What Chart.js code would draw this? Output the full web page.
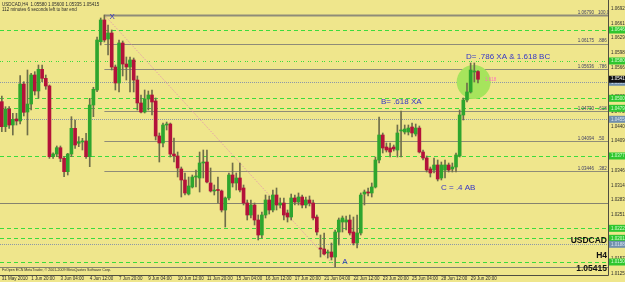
<!DOCTYPE html>
<html>
<head>
<meta charset="utf-8">
<title>USDCAD H4</title>
<script src="https://cdn.jsdelivr.net/npm/chart.js@4.4.0/dist/chart.umd.min.js"></script>
<style>
  html, body { margin: 0; padding: 0; background: #efe68c; }
  #wrap { width: 625px; height: 282px; }
</style>
</head>
<body>
<div id="wrap"><canvas id="chart" width="625" height="282"></canvas></div>
<script>
// USDCAD H4 — candles drawn as floating bars (wick + body)

// ── Data ──────────────────────────────────────────────────────────────
const opens = [
  1.04935, 1.04400, 1.04778, 1.04436, 1.04565, 1.04522, 1.05313, 1.04714, 1.04885, 1.05506,
  1.05164, 1.05628, 1.05435, 1.05271, 1.03758, 1.03815, 1.03950, 1.03723, 1.03437, 1.03815,
  1.04365, 1.04045, 1.04073, 1.04094, 1.03758, 1.04864, 1.05185, 1.06219, 1.06683, 1.06276,
  1.06405, 1.05677, 1.05335, 1.06191, 1.05741, 1.05677, 1.05827, 1.05399, 1.04907, 1.04714,
  1.04992, 1.05078, 1.04950, 1.04201, 1.04051, 1.04436, 1.04457, 1.03815, 1.03773, 1.03495,
  1.03259, 1.02959, 1.03109, 1.03323, 1.03302, 1.03623, 1.03644, 1.03195, 1.03024, 1.03045,
  1.03024, 1.02617, 1.02874, 1.03366, 1.03195, 1.03302, 1.03088, 1.02767, 1.02510, 1.02724,
  1.02403, 1.02082, 1.02510, 1.02831, 1.02617, 1.02938, 1.02724, 1.02767, 1.02553, 1.02467,
  1.02874, 1.02788, 1.02895, 1.02724, 1.02831, 1.02767, 1.02467, 1.01804, 1.01782, 1.01697,
  1.01718, 1.01611, 1.02146, 1.02360, 1.02360, 1.02403, 1.02146, 1.01911, 1.02125, 1.02959,
  1.03002, 1.02981, 1.03109, 1.03687, 1.04222, 1.03965, 1.03944, 1.03965, 1.03901, 1.04308,
  1.04286, 1.04286, 1.04393, 1.04243, 1.04371, 1.03858, 1.03730, 1.03495, 1.03473, 1.03580,
  1.03302, 1.03473, 1.03580, 1.03495, 1.03537, 1.03773, 1.04650, 1.04971, 1.05143, 1.05570,
  1.05580
];
const highs = [
  1.05057, 1.04828, 1.04828, 1.04686, 1.04686, 1.05491, 1.05363, 1.05613, 1.05542, 1.05577,
  1.05720, 1.05720, 1.05506, 1.05292, 1.03843, 1.03987, 1.03987, 1.03758, 1.03830, 1.04614,
  1.04543, 1.04186, 1.04151, 1.04258, 1.05007, 1.05243, 1.06319, 1.06726, 1.06790, 1.06576,
  1.06469, 1.05720, 1.06255, 1.06234, 1.05891, 1.05891, 1.05870, 1.05485, 1.05078, 1.05185,
  1.05164, 1.05185, 1.05014, 1.04265, 1.04479, 1.04500, 1.04479, 1.04158, 1.03858, 1.03537,
  1.03409, 1.03323, 1.03366, 1.03473, 1.03858, 1.03901, 1.03901, 1.03516, 1.03152, 1.03323,
  1.03045, 1.02895, 1.03409, 1.03623, 1.03409, 1.03623, 1.03152, 1.02831, 1.02831, 1.02767,
  1.02510, 1.02574, 1.02938, 1.02917, 1.03045, 1.03088, 1.02874, 1.02874, 1.02617, 1.02959,
  1.02938, 1.02981, 1.02938, 1.02895, 1.02917, 1.02831, 1.02510, 1.02082, 1.02125, 1.01761,
  1.01911, 1.02189, 1.02446, 1.02489, 1.02489, 1.02510, 1.02467, 1.02510, 1.02981, 1.03045,
  1.03088, 1.03195, 1.03751, 1.04607, 1.04265, 1.04051, 1.04051, 1.04008, 1.04436, 1.04736,
  1.04436, 1.04436, 1.04479, 1.04457, 1.04415, 1.03901, 1.03773, 1.03537, 1.03730, 1.03687,
  1.03644, 1.03687, 1.03623, 1.03623, 1.03837, 1.04757, 1.05014, 1.05335, 1.05763, 1.05763,
  1.05600
];
const lows = [
  1.04293, 1.04293, 1.04365, 1.04222, 1.04436, 1.04457, 1.04629, 1.04222, 1.04757, 1.05078,
  1.05007, 1.05363, 1.05200, 1.03723, 1.03723, 1.03758, 1.03651, 1.03330, 1.03366, 1.03758,
  1.03937, 1.03972, 1.03901, 1.03723, 1.03544, 1.04614, 1.05149, 1.06148, 1.06212, 1.05934,
  1.05613, 1.05185, 1.05143, 1.05485, 1.05399, 1.05143, 1.05143, 1.04757, 1.04693, 1.04693,
  1.04757, 1.04650, 1.04115, 1.03644, 1.03965, 1.04329, 1.03751, 1.03644, 1.03323, 1.02895,
  1.02938, 1.02938, 1.03088, 1.03109, 1.03002, 1.03302, 1.03195, 1.03002, 1.02938, 1.02767,
  1.02574, 1.02253, 1.02831, 1.03109, 1.03045, 1.03002, 1.02724, 1.02403, 1.02446, 1.02296,
  1.01975, 1.02018, 1.02446, 1.02531, 1.02574, 1.02617, 1.02660, 1.02403, 1.02360, 1.02403,
  1.02724, 1.02724, 1.02660, 1.02660, 1.02703, 1.02403, 1.02082, 1.01611, 1.01654, 1.01590,
  1.01547, 1.01397, 1.01868, 1.02146, 1.02189, 1.02082, 1.01868, 1.01804, 1.02082, 1.02724,
  1.02917, 1.02895, 1.03088, 1.03623, 1.03837, 1.03858, 1.03751, 1.03880, 1.03751, 1.03751,
  1.04243, 1.04222, 1.04179, 1.04201, 1.03837, 1.03687, 1.03430, 1.03323, 1.03409, 1.03238,
  1.03259, 1.03302, 1.03430, 1.03430, 1.03430, 1.03751, 1.04543, 1.04928, 1.05121, 1.05356,
  1.05335
];
const closes = [
  1.04400, 1.04778, 1.04436, 1.04558, 1.04522, 1.05313, 1.04708, 1.04885, 1.05506, 1.05164,
  1.05628, 1.05435, 1.05271, 1.03758, 1.03815, 1.03950, 1.03723, 1.03437, 1.03815, 1.04365,
  1.04008, 1.04079, 1.04087, 1.03758, 1.04864, 1.05200, 1.06255, 1.06683, 1.06255, 1.06405,
  1.05677, 1.05335, 1.06191, 1.05741, 1.05677, 1.05827, 1.05399, 1.04907, 1.04714, 1.04992,
  1.05078, 1.04928, 1.04201, 1.04051, 1.04436, 1.04457, 1.03815, 1.03773, 1.03516, 1.03259,
  1.02981, 1.03131, 1.03323, 1.03334, 1.03623, 1.03634, 1.03216, 1.03024, 1.03045, 1.03034,
  1.02617, 1.02874, 1.03366, 1.03195, 1.03302, 1.03045, 1.02767, 1.02510, 1.02724, 1.02403,
  1.02082, 1.02510, 1.02831, 1.02617, 1.02938, 1.02724, 1.02767, 1.02510, 1.02467, 1.02874,
  1.02788, 1.02895, 1.02724, 1.02831, 1.02767, 1.02446, 1.02146, 1.01782, 1.01675, 1.01718,
  1.01611, 1.02146, 1.02403, 1.02446, 1.02403, 1.02125, 1.01911, 1.02125, 1.02938, 1.03002,
  1.02981, 1.03109, 1.03687, 1.04222, 1.03944, 1.03901, 1.03858, 1.03922, 1.04265, 1.04329,
  1.04350, 1.04371, 1.04265, 1.04371, 1.03858, 1.03730, 1.03473, 1.03409, 1.03580, 1.03280,
  1.03580, 1.03580, 1.03473, 1.03537, 1.03794, 1.04650, 1.04971, 1.05143, 1.05613, 1.05581,
  1.05415
];

// one label every 8 H4 bars, first one on bar 0
const timeLabels = [
  '31 May 2010', '1 Jun 20:00', '3 Jun 04:00', '4 Jun 12:00', '7 Jun 20:00', '9 Jun 04:00',
  '10 Jun 12:00', '11 Jun 20:00', '15 Jun 04:00', '16 Jun 12:00', '17 Jun 20:00', '21 Jun 04:00',
  '22 Jun 12:00', '23 Jun 20:00', '25 Jun 04:00', '28 Jun 12:00', '29 Jun 20:00'
];
const priceTicks = [
  1.06925, 1.06610, 1.06295, 1.05980, 1.05665, 1.05350, 1.05035, 1.04720, 1.04405, 1.04090,
  1.03775, 1.03460, 1.03145, 1.02830, 1.02515, 1.02200, 1.01885, 1.01570, 1.01255
];

// Fibonacci levels of XA, drawn from the X bar to the right edge
const fibPrices = [1.06790, 1.06175, 1.05636, 1.04730, 1.04094, 1.03446];
const fibRatios = ['100.0', '.886', '.786', '.618', '.50', '.382'];
const solidLines = [1.02760, 1.01397];
const greenLines = [1.06469, 1.05806, 1.05007, 1.04793, 1.03773, 1.02225, 1.02011, 1.01504];
const dottedLines = [1.05350, 1.04558, 1.01883];

const X_BAR = 28, A_BAR = 91;
const TOTAL_SLOTS = 166; // 131 bars + chart shift space

const COLORS = {
  bg: '#efe68c',
  bull: '#2ea52e',
  bear: '#b3123a',
  wick: '#6f6e4a',
  fib: '#8f8c78',
  solid: '#85836f',
  green: '#3bdc3b',
  dotted: '#8c98a8',
  blueText: '#3434c8',
  pink: '#e48fb4',
  frame: '#4f4d40',
  text: '#2b2b2b',
};

const labels = [];
for (let i = 0; i < TOTAL_SLOTS; i++) {
  labels.push(i % 8 === 0 && timeLabels[i / 8] ? timeLabels[i / 8] : '');
}

// ── Plugins ───────────────────────────────────────────────────────────

const backdrop = {
  id: 'backdrop',
  beforeDraw(chart) {
    const ctx = chart.ctx;
    ctx.save();
    ctx.fillStyle = COLORS.bg;
    ctx.fillRect(0, 0, chart.width, chart.height);
    ctx.restore();
  },
  beforeDatasetsDraw(chart) {
    const { ctx, chartArea: a, scales: { x, y } } = chart;
    const hline = (p, x0, color, width, dash) => {
      const py = Math.round(y.getPixelForValue(p)) + 0.5;
      ctx.beginPath();
      ctx.strokeStyle = color;
      ctx.lineWidth = width;
      ctx.setLineDash(dash || []);
      ctx.moveTo(x0, py);
      ctx.lineTo(a.right, py);
      ctx.stroke();
    };
    ctx.save();
    greenLines.forEach((p, i) => hline(p, a.left, COLORS.green, 1, i === 1 ? [1, 1, 1, 4] : [4, 3]));
    dottedLines.forEach(p => hline(p, a.left, COLORS.dotted, 1, [1, 1]));
    solidLines.forEach(p => hline(p, a.left, COLORS.solid, 1));
    const fx = x.getPixelForValue(X_BAR);
    fibPrices.forEach((p, i) => hline(p, fx, COLORS.fib, i === 0 ? 2 : 1.2));

    // XA leg
    ctx.beginPath();
    ctx.strokeStyle = COLORS.pink;
    ctx.lineWidth = 1;
    ctx.setLineDash([1, 1.5]);
    ctx.moveTo(x.getPixelForValue(X_BAR), y.getPixelForValue(highs[X_BAR]));
    ctx.lineTo(x.getPixelForValue(A_BAR), y.getPixelForValue(lows[A_BAR]));
    ctx.stroke();
    ctx.setLineDash([]);

    // D zone
    ctx.beginPath();
    ctx.fillStyle = '#a6e45c';
    ctx.arc(x.getPixelForValue(128) + 3, y.getPixelForValue(1.05356), 17, 0, Math.PI * 2);
    ctx.fill();
    ctx.restore();
  },
  afterDatasetsDraw(chart) {
    const { ctx, chartArea: a, scales: { x, y } } = chart;
    const px = i => x.getPixelForValue(Math.floor(i)) + (i % 1) * (x.getPixelForValue(1) - x.getPixelForValue(0));
    ctx.save();
    ctx.textBaseline = 'middle';

    // fibo level captions
    ctx.font = '4.5px "Liberation Sans", Arial, sans-serif';
    ctx.fillStyle = '#3d3d66';
    fibPrices.forEach((p, i) => {
      const py = y.getPixelForValue(p) - 2.5;
      ctx.textAlign = 'right';
      ctx.fillText(p.toFixed(5), a.right - 14, py);
      ctx.textAlign = 'left';
      ctx.fillText(fibRatios[i], a.right - 10, py);
    });

    // pattern captions
    ctx.fillStyle = COLORS.blueText;
    ctx.font = '8px "Liberation Sans", Arial, sans-serif';
    ctx.textAlign = 'center';
    ctx.fillText('X', px(30.1), y.getPixelForValue(1.06747));
    ctx.fillText('A', px(93.7), y.getPixelForValue(1.01504));
    ctx.textAlign = 'left';
    ctx.fillText('B= .618 XA', px(103.5), y.getPixelForValue(1.04928));
    ctx.fillText('C = .4 AB', px(119.9), y.getPixelForValue(1.03088));
    ctx.fillText('D= .786 XA & 1.618 BC', px(126.7), y.getPixelForValue(1.05891));
    ctx.fillStyle = '#ff6fbf';
    ctx.font = '4.5px "Liberation Sans", Arial, sans-serif';
    ctx.fillText('1.618', px(131.9), y.getPixelForValue(1.05399));

    // frame
    ctx.strokeStyle = COLORS.frame;
    ctx.lineWidth = 1;
    ctx.beginPath();
    ctx.moveTo(a.left, a.bottom + 0.5);
    ctx.lineTo(a.right + 0.5, a.bottom + 0.5);
    ctx.lineTo(a.right + 0.5, 0);
    ctx.stroke();

    // price-axis markers
    const marker = (p, bg, fg) => {
      const py = y.getPixelForValue(p);
      ctx.fillStyle = bg;
      ctx.fillRect(a.right + 1, py - 3.5, 17, 7);
      ctx.fillStyle = fg;
      ctx.textAlign = 'left';
      ctx.fillText(p.toFixed(5), a.right + 3, py);
    };
    greenLines.forEach(p => marker(p, '#2fc62f', '#d8ffd0'));
    dottedLines.forEach(p => marker(p, '#7190ad', '#d8e4f0'));
    marker(closes[closes.length - 1], '#111111', '#ffffff');

    // header / footer texts
    ctx.fillStyle = COLORS.text;
    ctx.font = '4.5px "Liberation Sans", Arial, sans-serif';
    const last = closes.length - 1;
    ctx.fillText('USDCAD,H4  ' + [opens[last], highs[last], lows[last], closes[last]].map(v => v.toFixed(5)).join(' '), 2, 5);
    ctx.fillText('112 minutes 6 seconds left to bar end', 2, 10);
    ctx.font = '3.6px "Liberation Sans", Arial, sans-serif';
    ctx.fillText('FxOpen ECN MetaTrader, \u00a9 2001-2009 MetaQuotes Software Corp.', 2, 270);

    ctx.font = 'bold 8.5px "Liberation Sans", Arial, sans-serif';
    ctx.textAlign = 'right';
    ctx.fillStyle = '#111';
    ctx.fillText('USDCAD', a.right - 1, 241);
    ctx.fillText('H4', a.right - 1, 256);
    ctx.fillText(closes[last].toFixed(5), a.right - 1, 269);
    ctx.restore();
  }
};

// drop the automatic label padding so the plot fills 0..608 x 0..275
const noPad = s => {
  s.paddingTop = 0; s.paddingBottom = 0; s.paddingLeft = 0; s.paddingRight = 0;
};

// ── Chart ─────────────────────────────────────────────────────────────

const ctx = document.getElementById('chart').getContext('2d');
new Chart(ctx, {
  type: 'bar',
  data: {
    labels: labels,
    datasets: [
      {
        label: 'wick',
        data: highs.map((h, i) => [lows[i], h]),
        backgroundColor: COLORS.wick,
        barThickness: 1,
        grouped: false,
        order: 1,
      },
      {
        label: 'body',
        data: opens.map((o, i) => [o, closes[i]]),
        backgroundColor: opens.map((o, i) => closes[i] >= o ? COLORS.bull : COLORS.bear),
        barThickness: 3,
        minBarLength: 1,
        grouped: false,
        order: 0,
      }
    ]
  },
  options: {
    responsive: false,
    animation: false,
    devicePixelRatio: 1,
    layout: { padding: 0 },
    plugins: { legend: { display: false }, tooltip: { enabled: false } },
    scales: {
      x: {
        type: 'category',
        offset: true,
        grid: { display: false, drawTicks: false, tickLength: 0 },
        border: { display: false },
        ticks: {
          autoSkip: false,
          maxRotation: 0,
          minRotation: 0,
          align: 'start',
          padding: 1,
          color: COLORS.text,
          font: { size: 4.5, family: '"Liberation Sans", Arial, sans-serif' },
        },
        afterFit: s => { s.height = 7; noPad(s); },
      },
      y: {
        position: 'right',
        min: 1.01226,
        max: 1.07111,
        grid: { display: false, drawTicks: false, tickLength: 0 },
        border: { display: false },
        afterBuildTicks: s => { s.ticks = priceTicks.map(v => ({ value: v })); },
        ticks: {
          padding: 3,
          color: COLORS.text,
          font: { size: 4.5, family: '"Liberation Sans", Arial, sans-serif' },
          callback: v => v.toFixed(5),
        },
        afterFit: s => { s.width = 17; noPad(s); },
      }
    }
  },
  plugins: [backdrop]
});
</script>
</body>
</html>
